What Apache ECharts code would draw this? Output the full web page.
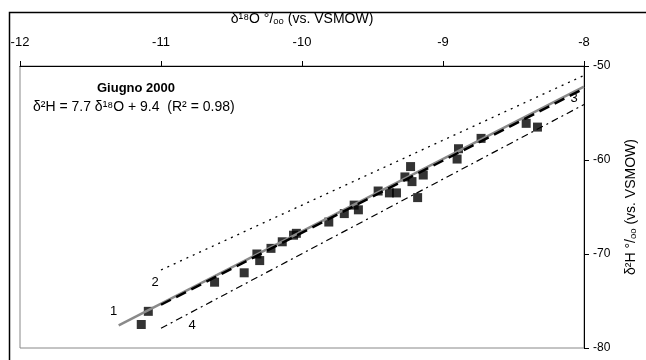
<!DOCTYPE html>
<html><head><meta charset="utf-8">
<script src="https://cdn.jsdelivr.net/npm/echarts@6/dist/echarts.min.js"></script>
<style>html,body{margin:0;padding:0;background:#fff}#c{width:646px;height:360px}</style>
</head><body><div id="c"></div>
<script>
// Observed points: [δ18O, δ2H]
const pointsD18O = [-11.14,-11.09,-10.62,-10.41,-10.32,-10.30,-10.22,-10.14,-10.06,-10.04,-9.81,-9.70,-9.63,-9.60,-9.46,-9.38,-9.33,-9.27,-9.23,-9.22,-9.14,-9.18,-8.89,-8.90,-8.73,-8.41,-8.33];
const pointsD2H  = [-77.5,-76.1,-73.0,-72.0,-70.0,-70.7,-69.4,-68.7,-68.0,-67.8,-66.6,-65.7,-64.8,-65.3,-63.3,-63.5,-63.5,-61.8,-60.7,-62.3,-61.6,-64.0,-58.8,-59.9,-57.7,-56.1,-56.5];
// Line endpoints
const line1X = [-11.3, -8.0], line1Y = [-77.6, -52.2];   // regression (grey)
const line2X = [-11.0, -8.0], line2Y = [-71.7, -51.0];   // dotted upper
const line3X = [-11.0, -8.0], line3Y = [-75.4, -52.4];   // long dashed
const line4X = [-11.0, -8.0], line4Y = [-77.9, -54.1];   // dash-dot lower
const xTicks = [-12, -11, -10, -9, -8];
const yTicks = [-80, -70, -60, -50];

const FONT = 'Liberation Sans, Arial, sans-serif';
const zip = (a, b) => a.map((v, i) => [v, b[i]]);
function lbl(text, pos, off) { return { show: true, formatter: text, position: pos, offset: off, color: '#000', fontSize: 13, fontFamily: FONT }; }

const chart = echarts.init(document.getElementById('c'));
chart.setOption({
  animation: false,
  textStyle: { fontFamily: FONT },
  grid: { left: 20, right: 62, top: 66, bottom: 12, show: true, borderColor: '#888', borderWidth: 1 },
  xAxis: {
    type: 'value', position: 'top', min: xTicks[0], max: xTicks[xTicks.length - 1], interval: 1,
    name: 'δ¹⁸O °/ₒₒ (vs. VSMOW)', nameLocation: 'middle', nameGap: 40,
    nameTextStyle: { fontSize: 14, color: '#000', fontFamily: FONT },
    axisLine: { onZero: false, lineStyle: { color: '#000', width: 1 } },
    axisTick: { show: true, inside: false, length: 5, lineStyle: { color: '#000' } },
    axisLabel: { color: '#000', fontSize: 13, margin: 17 },
    splitLine: { show: false }
  },
  yAxis: {
    type: 'value', position: 'right', min: yTicks[0], max: yTicks[yTicks.length - 1], interval: 10,
    name: 'δ²H °/ₒₒ (vs. VSMOW)', nameLocation: 'middle', nameGap: 40, nameRotate: 90,
    nameTextStyle: { fontSize: 14, color: '#000', fontFamily: FONT },
    axisLine: { onZero: false, lineStyle: { color: '#000', width: 1 } },
    axisTick: { show: true, length: 5, lineStyle: { color: '#000' } },
    axisLabel: { color: '#000', fontSize: 12, margin: 9 },
    splitLine: { show: false }
  },
  graphic: [
    { type: 'rect', left: 7, top: 10, shape: { width: 700, height: 400 }, style: { fill: 'none', stroke: '#000', lineWidth: 1.5 }, silent: true },
    { type: 'text', x: 136, y: 88, style: { text: 'Giugno 2000', align: 'center', verticalAlign: 'middle', font: 'bold 13px ' + FONT, fill: '#000' } },
    { type: 'text', x: 33, y: 107, style: { text: 'δ²H = 7.7 δ¹⁸O + 9.4  (R² = 0.98)', align: 'left', verticalAlign: 'middle', font: '14px ' + FONT, fill: '#000' } }
  ],
  series: [
    { type: 'scatter', data: zip(pointsD18O, pointsD2H), symbol: 'rect', symbolSize: 9, itemStyle: { color: '#000' }, z: 2 },
    { type: 'line', data: zip(line1X, line1Y), symbol: 'none', lineStyle: { color: '#8a8a8a', width: 2.5 }, z: 3,
      markPoint: { symbol: 'circle', symbolSize: 0, data: [{ coord: [line1X[0], line1Y[0]], label: lbl('1', 'inside', [-5, -14]) }] } },
    { type: 'line', data: zip(line3X, line3Y), symbol: 'none', lineStyle: { color: '#000', width: 2.5, type: [11, 6] }, z: 4,
      markPoint: { symbol: 'circle', symbolSize: 0, data: [{ coord: [line3X[1], line3Y[1]], label: lbl('3', 'inside', [-10, 10]) }] } },
    { type: 'line', data: zip(line2X, line2Y), symbol: 'none', lineStyle: { color: '#000', width: 1.3, type: [2, 5] }, z: 4,
      markPoint: { symbol: 'circle', symbolSize: 0, data: [{ coord: [line2X[0], line2Y[0]], label: lbl('2', 'inside', [-6, 12]) }] } },
    { type: 'line', data: zip(line4X, line4Y), symbol: 'none', lineStyle: { color: '#000', width: 1.2, type: [7, 4, 2, 4] }, z: 4,
      markPoint: { symbol: 'circle', symbolSize: 0, data: [{ coord: [line4X[0], line4Y[0]], label: lbl('4', 'inside', [31, -3]) }] } }
  ]
});
</script></body></html>
